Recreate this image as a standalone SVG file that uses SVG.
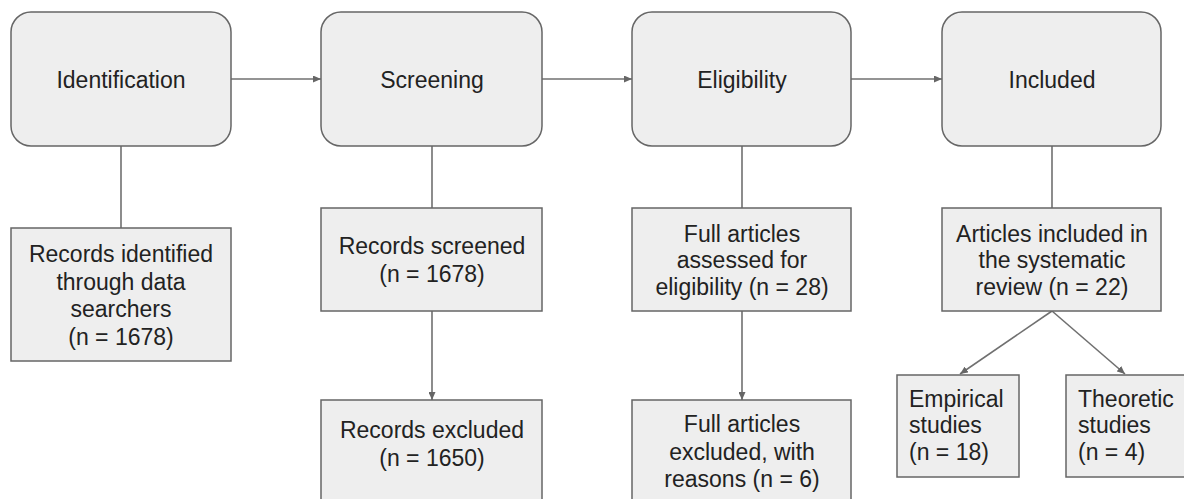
<svg xmlns="http://www.w3.org/2000/svg" width="1184" height="499" viewBox="0 0 1184 499">
<style>
.box{fill:#eeeeee;stroke:#666666;stroke-width:1.5}
.t{font-family:"Liberation Sans",Arial,sans-serif;font-size:23px;fill:#222222}
.c{text-anchor:middle}
.ln{stroke:#707070;stroke-width:1.6;fill:none}
</style>
<defs>
<marker id="ah" markerUnits="userSpaceOnUse" markerWidth="8" markerHeight="7" refX="8" refY="3.5" orient="auto">
<path d="M0,0 L8,3.5 L0,7 z" fill="#666666"/>
</marker>
</defs>
<rect width="1184" height="499" fill="#ffffff"/>
<g id="connectors">
<line class="ln" x1="231" y1="79" x2="321" y2="79" marker-end="url(#ah)"/>
<line class="ln" x1="542" y1="79" x2="632" y2="79" marker-end="url(#ah)"/>
<line class="ln" x1="851" y1="79" x2="942" y2="79" marker-end="url(#ah)"/>
<line class="ln" x1="121" y1="146" x2="121" y2="228"/>
<line class="ln" x1="432" y1="146" x2="432" y2="208"/>
<line class="ln" x1="742" y1="146" x2="742" y2="208"/>
<line class="ln" x1="1052" y1="146" x2="1052" y2="208"/>
<line class="ln" x1="432" y1="311" x2="432" y2="400" marker-end="url(#ah)"/>
<line class="ln" x1="742" y1="311" x2="742" y2="400" marker-end="url(#ah)"/>
<line class="ln" x1="1052" y1="311" x2="960" y2="374" marker-end="url(#ah)"/>
<line class="ln" x1="1052" y1="311" x2="1125" y2="374" marker-end="url(#ah)"/>
</g>
<g id="identification">
<rect class="box" x="11" y="12" width="220" height="134" rx="20"/>
<text class="t c" x="121" y="88">Identification</text>
</g>
<g id="screening">
<rect class="box" x="321" y="12" width="221" height="134" rx="20"/>
<text class="t c" x="432" y="88">Screening</text>
</g>
<g id="eligibility">
<rect class="box" x="632" y="12" width="219" height="134" rx="20"/>
<text class="t c" x="742" y="88">Eligibility</text>
</g>
<g id="included">
<rect class="box" x="942" y="12" width="219" height="134" rx="20"/>
<text class="t c" x="1052" y="88">Included</text>
</g>
<g id="records-identified">
<rect class="box" x="11" y="228" width="220" height="133"/>
<text class="t c" x="121" y="262">Records identified</text>
<text class="t c" x="121" y="290">through data</text>
<text class="t c" x="121" y="317">searchers</text>
<text class="t c" x="121" y="345">(n = 1678)</text>
</g>
<g id="records-screened">
<rect class="box" x="321" y="208" width="221" height="103"/>
<text class="t c" x="432" y="254">Records screened</text>
<text class="t c" x="432" y="282">(n = 1678)</text>
</g>
<g id="records-excluded">
<rect class="box" x="321" y="400" width="221" height="110"/>
<text class="t c" x="432" y="438">Records excluded</text>
<text class="t c" x="432" y="466">(n = 1650)</text>
</g>
<g id="full-assessed">
<rect class="box" x="632" y="208" width="219" height="103"/>
<text class="t c" x="742" y="242">Full articles</text>
<text class="t c" x="742" y="268">assessed for</text>
<text class="t c" x="742" y="295">eligibility (n = 28)</text>
</g>
<g id="full-excluded">
<rect class="box" x="632" y="400" width="219" height="110"/>
<text class="t c" x="742" y="432">Full articles</text>
<text class="t c" x="742" y="460">excluded, with</text>
<text class="t c" x="742" y="487">reasons (n = 6)</text>
</g>
<g id="articles-included">
<rect class="box" x="942" y="208" width="219" height="103"/>
<text class="t c" x="1052" y="242">Articles included in</text>
<text class="t c" x="1052" y="268">the systematic</text>
<text class="t c" x="1052" y="295">review (n = 22)</text>
</g>
<g id="empirical">
<rect class="box" x="897" y="375" width="122" height="102"/>
<text class="t" x="909" y="407">Empirical</text>
<text class="t" x="909" y="433">studies</text>
<text class="t" x="909" y="460">(n = 18)</text>
</g>
<g id="theoretic">
<rect class="box" x="1066" y="375" width="124" height="102"/>
<text class="t" x="1078" y="407">Theoretic</text>
<text class="t" x="1078" y="433">studies</text>
<text class="t" x="1078" y="460">(n = 4)</text>
</g>
</svg>
